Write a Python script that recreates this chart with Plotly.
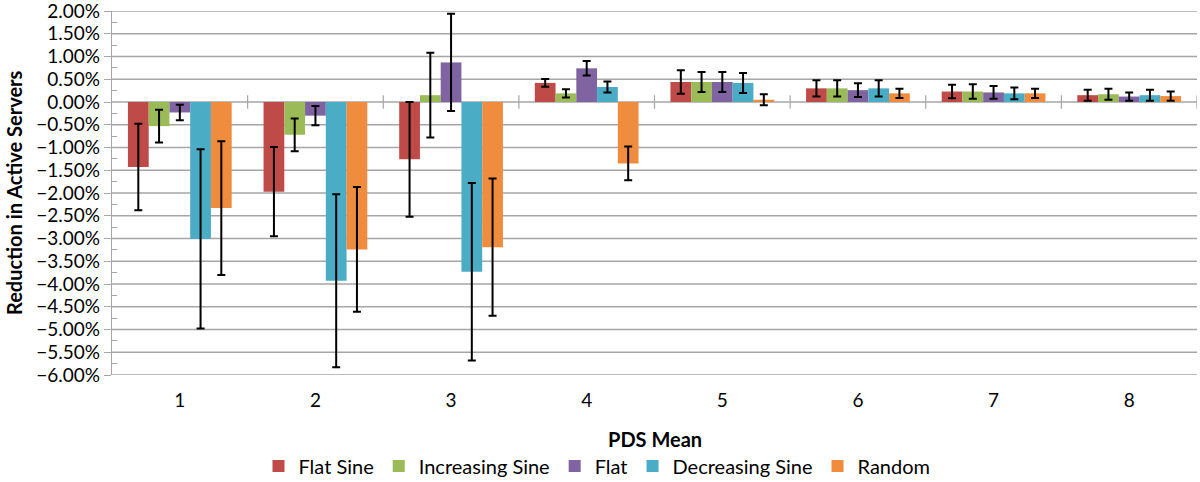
import plotly.graph_objects as go

categories = ["1", "2", "3", "4", "5", "6", "7", "8"]
series_names = ["Flat Sine", "Increasing Sine", "Flat", "Decreasing Sine", "Random"]
colors = ["#BE4B48", "#9BBB59", "#8064A2", "#4BACC6", "#F08C3E"]

# values in percent
flat_sine = [-1.43, -1.97, -1.26, 0.42, 0.44, 0.30, 0.23, 0.15]
increasing_sine = [-0.53, -0.72, 0.15, 0.19, 0.44, 0.30, 0.23, 0.17]
flat = [-0.23, -0.30, 0.87, 0.74, 0.44, 0.26, 0.21, 0.12]
decreasing_sine = [-3.01, -3.93, -3.73, 0.33, 0.42, 0.30, 0.19, 0.15]
random_ = [-2.33, -3.24, -3.19, -1.35, 0.05, 0.19, 0.19, 0.13]

flat_sine_err = [0.95, 0.98, 1.26, 0.085, 0.26, 0.18, 0.15, 0.12]
increasing_sine_err = [0.36, 0.36, 0.93, 0.09, 0.22, 0.18, 0.16, 0.12]
flat_err = [0.17, 0.21, 1.07, 0.16, 0.22, 0.15, 0.14, 0.09]
decreasing_sine_err = [1.97, 1.90, 1.95, 0.12, 0.22, 0.18, 0.13, 0.12]
random_err = [1.47, 1.37, 1.51, 0.37, 0.12, 0.10, 0.10, 0.10]

y_tick_values = [round(-0.06 + 0.005 * k, 4) for k in range(17)]
y_minor_values = [round(-0.0575 + 0.005 * k, 4) for k in range(16)]

values = [flat_sine, increasing_sine, flat, decreasing_sine, random_]
errors = [flat_sine_err, increasing_sine_err, flat_err, decreasing_sine_err, random_err]

FONT = "Lato"
GRID = "#A6A6A6"
Y_RANGE = [-0.06, 0.02]
fig = go.Figure()
for name, vals, errs, col in zip(series_names, values, errors, colors):
    fig.add_trace(go.Bar(
        name=name,
        x=categories,
        y=[v / 100 for v in vals],
        marker=dict(color=col, line=dict(width=0)),
        error_y=dict(type="data", array=[e / 100 for e in errs], visible=True,
                     color="black", thickness=2, width=4),
    ))
# empty trace so the minor-tick overlay axis is drawn
fig.add_trace(go.Scatter(x=[], y=[], yaxis="y2", showlegend=False, hoverinfo="skip"))

shapes = []
# horizontal gridlines at every major tick
for v in y_tick_values:
    shapes.append(dict(type="line", xref="paper", yref="y", x0=0, x1=1, y0=v, y1=v,
                       layer="below", line=dict(color=GRID, width=1.4)))
# category divider ticks on the zero line
for i in range(1, len(categories) + 1):
    shapes.append(dict(type="line", xref="x", yref="y", x0=i - 0.5, x1=i - 0.5,
                       y0=-0.0015, y1=0.0015, layer="below",
                       line=dict(color=GRID, width=1.2)))

fig.update_layout(
    width=1200, height=482,
    margin=dict(l=112, r=3, t=11, b=107, autoexpand=False),
    paper_bgcolor="white", plot_bgcolor="white",
    barmode="group", bargap=0.235, bargroupgap=0,
    font=dict(family=FONT, size=19, color="black"),
    showlegend=True,
    legend=dict(orientation="h", x=0.447, xanchor="center", y=-0.25, yanchor="middle",
                font=dict(family=FONT, size=20), itemwidth=30, tracegroupgap=0,
                traceorder="normal"),
    xaxis=dict(type="category", showgrid=False, showline=False, ticks="",
               tickfont=dict(size=19), range=[-0.5, 7.5], ticklabelstandoff=12,
               automargin=False),
    yaxis=dict(range=[Y_RANGE[0] - 1e-6, Y_RANGE[1] + 1e-6], tickmode="array",
               tickvals=y_tick_values, tickformat=".2%", ticklabeloverflow="allow",
               showgrid=False, zeroline=False,
               showline=True, linecolor=GRID, linewidth=1.3,
               ticks="outside", ticklen=7, tickcolor=GRID, tickwidth=1.3,
               tickfont=dict(size=19), automargin=False),
    yaxis2=dict(overlaying="y", anchor="x", side="left",
                range=[Y_RANGE[0] - 1e-6, Y_RANGE[1] + 1e-6], tickmode="array",
                tickvals=y_minor_values,
                showticklabels=False, showgrid=False, zeroline=False, showline=False,
                ticks="inside", ticklen=5, tickcolor=GRID, tickwidth=1.3,
                automargin=False),
    shapes=shapes,
    annotations=[
        dict(text="<b>Reduction in Active Servers</b>", xref="paper", yref="paper",
             x=0, y=0.5, xshift=-98, textangle=-90, showarrow=False,
             xanchor="center", yanchor="middle", font=dict(size=20)),
        dict(text="<b>PDS Mean</b>", xref="paper", yref="paper",
             x=0.5, y=0, yshift=-64, showarrow=False,
             xanchor="center", yanchor="middle", font=dict(size=20)),
    ],
)

fig.write_html("out.html", config={"displayModeBar": False},
               post_script="document.body.style.margin='0';")
